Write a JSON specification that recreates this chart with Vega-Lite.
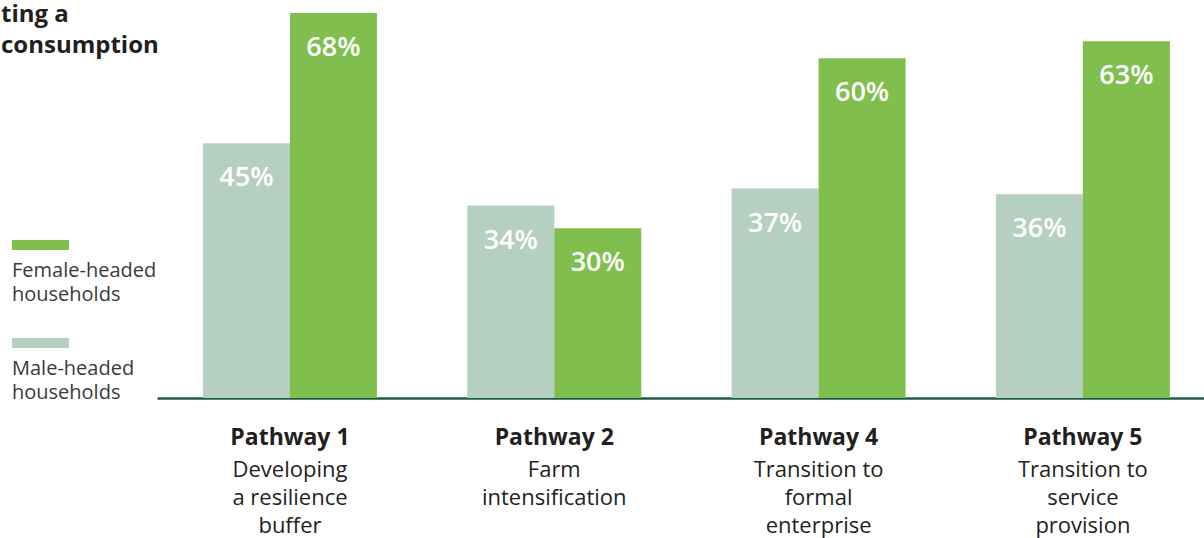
{
  "$schema": "https://vega.github.io/schema/vega-lite/v6.json",
  "autosize": "none",
  "width": 1047,
  "height": 398,
  "padding": {"left": 157, "top": 0, "right": 0, "bottom": 140},
  "background": "white",
  "title": {
    "text": ["ting a", "consumption"],
    "anchor": "start",
    "frame": "group",
    "orient": "top",
    "font": "Open Sans",
    "fontSize": 24,
    "fontWeight": "bold",
    "color": "#231f20",
    "lineHeight": 31,
    "dx": -156,
    "dy": 58,
    "offset": 0
  },
  "data": {
    "values": [
      {"pathway": "Pathway 1", "household": "Male-headed households", "value": 45, "label": "45%"},
      {"pathway": "Pathway 1", "household": "Female-headed households", "value": 68, "label": "68%"},
      {"pathway": "Pathway 2", "household": "Male-headed households", "value": 34, "label": "34%"},
      {"pathway": "Pathway 2", "household": "Female-headed households", "value": 30, "label": "30%"},
      {"pathway": "Pathway 4", "household": "Male-headed households", "value": 37, "label": "37%"},
      {"pathway": "Pathway 4", "household": "Female-headed households", "value": 60, "label": "60%"},
      {"pathway": "Pathway 5", "household": "Male-headed households", "value": 36, "label": "36%"},
      {"pathway": "Pathway 5", "household": "Female-headed households", "value": 63, "label": "63%"}
    ]
  },
  "config": {
    "view": {"stroke": null},
    "font": "Open Sans",
    "style": {"guide-label": {"lineHeight": 24}}
  },
  "encoding": {
    "x": {
      "field": "pathway",
      "type": "nominal",
      "sort": ["Pathway 1", "Pathway 2", "Pathway 4", "Pathway 5"],
      "scale": {"paddingInner": 0.3417, "paddingOuter": 0.1515, "align": 0.574}
    },
    "xOffset": {
      "field": "household",
      "type": "nominal",
      "scale": {"domain": ["Male-headed households", "Female-headed households"], "paddingInner": 0, "paddingOuter": 0}
    },
    "y": {
      "field": "value",
      "type": "quantitative",
      "scale": {"domain": [0, 70.3], "nice": false, "zero": true},
      "axis": null
    }
  },
  "layer": [
    {
      "mark": {"type": "bar"},
      "encoding": {
        "x": {
          "field": "pathway",
          "type": "nominal",
          "sort": ["Pathway 1", "Pathway 2", "Pathway 4", "Pathway 5"],
          "axis": {
            "title": null,
            "orient": "bottom",
            "ticks": false,
            "labelAngle": 0,
            "labelFont": "Open Sans",
            "labelFontSize": 23,
            "labelFontWeight": "bold",
            "labelColor": "#231f20",
            "labelPadding": 28,
            "domainColor": "#1d5c45",
            "domainWidth": 2.5
          }
        },
        "color": {
          "field": "household",
          "type": "nominal",
          "scale": {"domain": ["Female-headed households", "Male-headed households"], "range": ["#80bf4e", "#b5cfc1"]},
          "legend": {
            "title": null,
            "orient": "none",
            "legendX": -145,
            "legendY": 232,
            "symbolType": "M-1,-0.715H1V-0.365H-1Z",
            "symbolSize": 3249,
            "symbolStrokeWidth": 0,
            "labelOffset": -57,
            "labelBaseline": "top",
            "labelFont": "Open Sans",
            "labelFontSize": 20,
            "labelColor": "#3a3a3a",
            "labelExpr": "split(datum.label, ' ')",
            "rowPadding": 25
          }
        }
      }
    },
    {
      "mark": {"type": "text", "color": "white", "baseline": "middle", "dy": 35, "font": "Open Sans", "fontSize": 27, "fontWeight": 600},
      "encoding": {
        "text": {"field": "label"},
        "x": {
          "field": "pathway",
          "type": "nominal",
          "sort": ["Pathway 1", "Pathway 2", "Pathway 4", "Pathway 5"],
          "axis": {
            "title": null,
            "orient": "bottom",
            "ticks": false,
            "domain": false,
            "labelAngle": 0,
            "labelFont": "Open Sans",
            "labelFontSize": 22,
            "labelColor": "#231f20",
            "labelPadding": 61,
            "labelLineHeight": 28,
            "labelExpr": "datum.value == 'Pathway 1' ? ['Developing', 'a resilience', 'buffer'] : datum.value == 'Pathway 2' ? ['Farm', 'intensification'] : datum.value == 'Pathway 4' ? ['Transition to', 'formal', 'enterprise'] : ['Transition to', 'service', 'provision']"
          }
        }
      }
    }
  ],
  "resolve": {"axis": {"x": "independent"}}
}
